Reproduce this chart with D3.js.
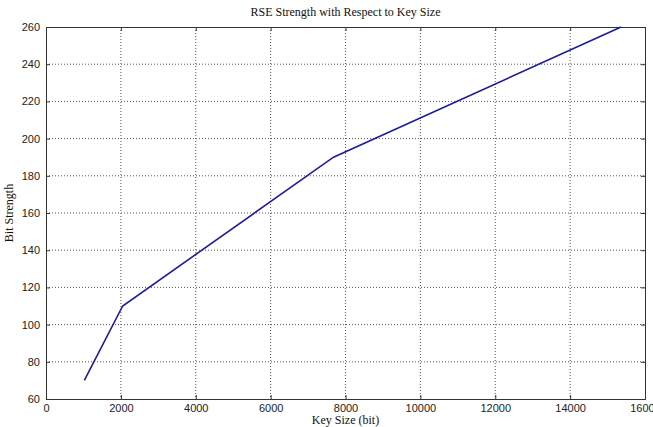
<!DOCTYPE html>
<html>
<head>
<meta charset="utf-8">
<script src="https://cdn.jsdelivr.net/npm/d3@7"></script>
<style>
  body { margin: 0; background: #fff; }
  .tick text { font-family: Arial, "Liberation Sans", sans-serif; font-size: 11px; fill: #222; }
  .lbl { font-family: "Liberation Serif", "Times New Roman", serif; font-size: 12px; fill: #111; }
</style>
</head>
<body>
<svg width="653" height="427"></svg>
<script>
// data
var keySize = [1024, 2048, 7680, 15360];
var bitStrength = [70, 110, 190, 260];
var xTicks = [0, 2000, 4000, 6000, 8000, 10000, 12000, 14000, 16000];
var yTicks = [60, 80, 100, 120, 140, 160, 180, 200, 220, 240, 260];

var svg = d3.select("svg");
var plotL = 46, plotR = 645, plotT = 27, plotB = 399;

var x = d3.scaleLinear().domain([0, 16000]).range([plotL, plotR]);
var y = d3.scaleLinear().domain([60, 260]).range([plotB, plotT]);

// grid
var grid = svg.append("g")
grid.selectAll(".gx")
  .data(xTicks.slice(1, -1))
  .enter().append("line")
    .attr("x1", d => x(d)).attr("x2", d => x(d))
    .attr("y1", plotT).attr("y2", plotB)
    .attr("stroke", "#555").attr("stroke-dasharray", "1,2");
grid.selectAll(".gy")
  .data(yTicks.slice(1, -1))
  .enter().append("line")
    .attr("x1", plotL).attr("x2", plotR)
    .attr("y1", d => y(d)).attr("y2", d => y(d))
    .attr("stroke", "#555").attr("stroke-dasharray", "1,2");

// axes (ticks inward, box on all sides)
svg.append("g")
  .attr("transform", "translate(0," + plotB + ")")
  .call(d3.axisBottom(x).tickValues(xTicks).tickSize(-4).tickPadding(5).tickFormat(d3.format("d")));
svg.append("g")
  .attr("transform", "translate(" + plotL + ",0)")
  .call(d3.axisLeft(y).tickValues(yTicks).tickSize(-4).tickPadding(6));
svg.append("g")
  .attr("transform", "translate(0," + plotT + ")")
  .call(d3.axisTop(x).tickValues(xTicks).tickSize(-4).tickFormat(""));
svg.append("g")
  .attr("transform", "translate(" + plotR + ",0)")
  .call(d3.axisRight(y).tickValues(yTicks).tickSize(-4).tickFormat(""));
svg.selectAll(".domain").attr("stroke", "#333");
svg.selectAll(".tick line").attr("stroke", "#333");

// line
svg.append("path")
  .datum(keySize.map((k, i) => [k, bitStrength[i]]))
  .attr("fill", "none")
  .attr("stroke", "#1c1c9c")
  .attr("stroke-width", 1.6)
  .attr("d", d3.line().x(d => x(d[0])).y(d => y(d[1])));

// labels
svg.append("text").attr("class", "lbl")
  .attr("x", (plotL + plotR) / 2).attr("y", 16)
  .attr("text-anchor", "middle")
  .text("RSE Strength with Respect to Key Size");
svg.append("text").attr("class", "lbl")
  .attr("x", (plotL + plotR) / 2).attr("y", 424)
  .attr("text-anchor", "middle")
  .text("Key Size (bit)");
svg.append("text").attr("class", "lbl")
  .attr("transform", "translate(13," + (plotT + plotB) / 2 + ") rotate(-90)")
  .attr("text-anchor", "middle")
  .text("Bit Strength");
</script>
</body>
</html>
